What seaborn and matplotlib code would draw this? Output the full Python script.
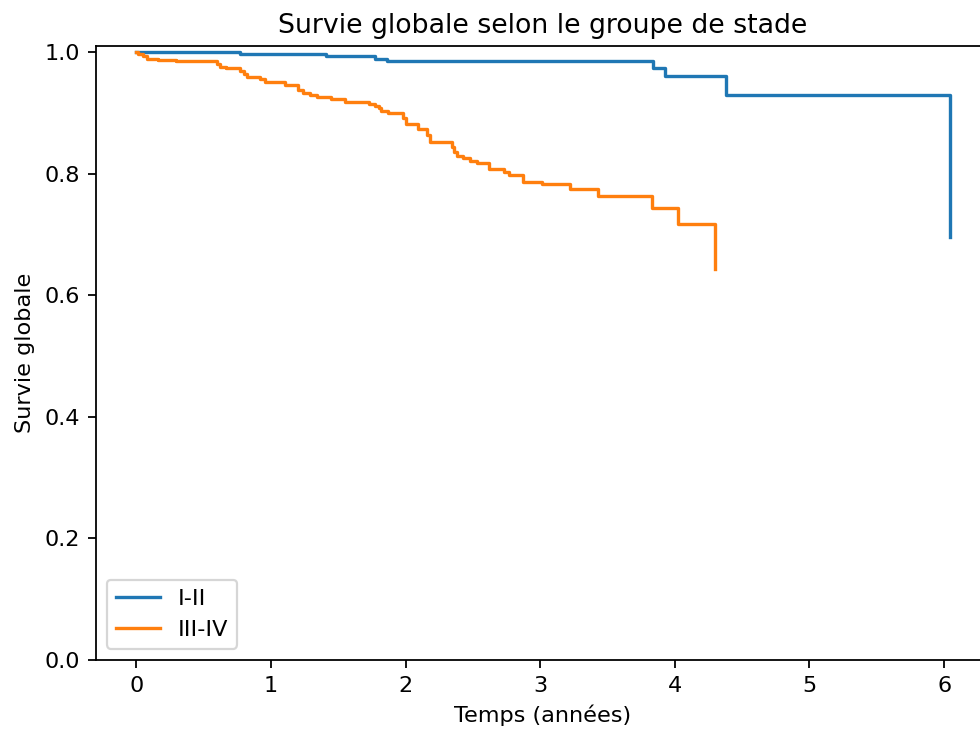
import matplotlib
matplotlib.use("Agg")
import matplotlib.pyplot as plt
import seaborn as sns
import pandas as pd

# Kaplan-Meier step values
groups = ["I-II", "III-IV"]

time_1 = [0.0, 0.77, 1.41, 1.77, 1.86, 3.84, 3.93, 4.38, 6.04]
surv_1 = [1.0, 0.996, 0.993, 0.989, 0.986, 0.974, 0.960, 0.930, 0.695]

time_2 = [0.0, 0.015, 0.054, 0.079, 0.165, 0.297, 0.60, 0.625, 0.67, 0.77,
          0.80, 0.82, 0.92, 0.957, 1.105, 1.20, 1.235, 1.29, 1.34, 1.45,
          1.55, 1.73, 1.77, 1.80, 1.82, 1.87, 1.98, 2.00, 2.095, 2.16,
          2.18, 2.345, 2.36, 2.385, 2.43, 2.48, 2.53, 2.62, 2.73, 2.77,
          2.87, 3.01, 3.22, 3.43, 3.83, 4.02, 4.30]
surv_2 = [1.0, 0.996, 0.993, 0.989, 0.987, 0.985, 0.981, 0.976, 0.973, 0.969,
          0.964, 0.959, 0.955, 0.951, 0.945, 0.937, 0.933, 0.929, 0.926, 0.922,
          0.918, 0.915, 0.912, 0.908, 0.903, 0.899, 0.891, 0.882, 0.874, 0.863,
          0.852, 0.844, 0.836, 0.829, 0.825, 0.821, 0.817, 0.807, 0.803, 0.798,
          0.787, 0.783, 0.774, 0.764, 0.744, 0.717, 0.643]

df = pd.concat([
    pd.DataFrame({"temps": time_1, "survie": surv_1, "groupe": groups[0]}),
    pd.DataFrame({"temps": time_2, "survie": surv_2, "groupe": groups[1]}),
])

fig = plt.figure(figsize=(6.095, 4.565), dpi=160.8)
ax = fig.add_axes([0.0975, 0.1008, 0.9128, 0.8365])

sns.lineplot(data=df, x="temps", y="survie", hue="groupe", estimator=None,
             drawstyle="steps-post", ax=ax)

handles, labels = ax.get_legend_handles_labels()
ax.legend(handles, labels, loc="lower left")

ax.set_ylim(0, 1.01)
ax.set_xticks(range(0, 7))
ax.set_xlabel("Temps (années)")
ax.set_ylabel("Survie globale")
ax.set_title("Survie globale selon le groupe de stade")

plt.savefig("out.png")
plt.close()
